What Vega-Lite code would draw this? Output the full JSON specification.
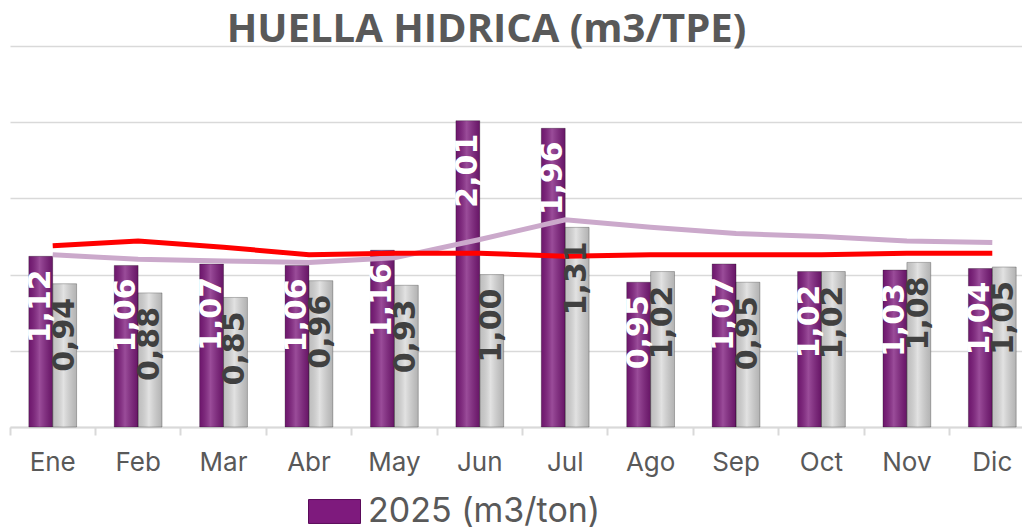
{
  "$schema": "https://vega.github.io/schema/vega-lite/v6.json",
  "autosize": {"type": "none"},
  "padding": {"left": 10, "top": 46, "right": 0, "bottom": 102},
  "width": 1025,
  "height": 381,
  "background": "white",
  "title": {
    "text": "HUELLA HIDRICA (m3/TPE)",
    "font": "Open Sans",
    "fontSize": 40,
    "fontWeight": "bold",
    "color": "#595959",
    "anchor": "middle",
    "dx": -36,
    "dy": 44,
    "offset": 0,
    "baseline": "bottom"
  },
  "datasets": {
    "bars": [
      {"month": "Ene", "series": "2025 (m3/ton)", "value": 1.12},
      {"month": "Feb", "series": "2025 (m3/ton)", "value": 1.06},
      {"month": "Mar", "series": "2025 (m3/ton)", "value": 1.07},
      {"month": "Abr", "series": "2025 (m3/ton)", "value": 1.06},
      {"month": "May", "series": "2025 (m3/ton)", "value": 1.16},
      {"month": "Jun", "series": "2025 (m3/ton)", "value": 2.01},
      {"month": "Jul", "series": "2025 (m3/ton)", "value": 1.96},
      {"month": "Ago", "series": "2025 (m3/ton)", "value": 0.95},
      {"month": "Sep", "series": "2025 (m3/ton)", "value": 1.07},
      {"month": "Oct", "series": "2025 (m3/ton)", "value": 1.02},
      {"month": "Nov", "series": "2025 (m3/ton)", "value": 1.03},
      {"month": "Dic", "series": "2025 (m3/ton)", "value": 1.04},
      {"month": "Ene", "series": "2024 (m3/ton)", "value": 0.94},
      {"month": "Feb", "series": "2024 (m3/ton)", "value": 0.88},
      {"month": "Mar", "series": "2024 (m3/ton)", "value": 0.85},
      {"month": "Abr", "series": "2024 (m3/ton)", "value": 0.96},
      {"month": "May", "series": "2024 (m3/ton)", "value": 0.93},
      {"month": "Jun", "series": "2024 (m3/ton)", "value": 1.00},
      {"month": "Jul", "series": "2024 (m3/ton)", "value": 1.31},
      {"month": "Ago", "series": "2024 (m3/ton)", "value": 1.02},
      {"month": "Sep", "series": "2024 (m3/ton)", "value": 0.95},
      {"month": "Oct", "series": "2024 (m3/ton)", "value": 1.02},
      {"month": "Nov", "series": "2024 (m3/ton)", "value": 1.08},
      {"month": "Dic", "series": "2024 (m3/ton)", "value": 1.05}
    ],
    "lines": [
      {"month": "Ene", "red": 1.19, "lilac": 1.13},
      {"month": "Feb", "red": 1.22, "lilac": 1.10},
      {"month": "Mar", "red": 1.18, "lilac": 1.09},
      {"month": "Abr", "red": 1.13, "lilac": 1.08},
      {"month": "May", "red": 1.14, "lilac": 1.11},
      {"month": "Jun", "red": 1.14, "lilac": 1.23},
      {"month": "Jul", "red": 1.12, "lilac": 1.36},
      {"month": "Ago", "red": 1.13, "lilac": 1.31},
      {"month": "Sep", "red": 1.13, "lilac": 1.27},
      {"month": "Oct", "red": 1.13, "lilac": 1.25},
      {"month": "Nov", "red": 1.14, "lilac": 1.22},
      {"month": "Dic", "red": 1.14, "lilac": 1.21}
    ]
  },
  "encoding": {
    "x": {
      "field": "month",
      "type": "nominal",
      "sort": ["Ene", "Feb", "Mar", "Abr", "May", "Jun", "Jul", "Ago", "Sep", "Oct", "Nov", "Dic"],
      "scale": {"paddingInner": 0, "paddingOuter": 0},
      "axis": {
        "title": null,
        "labelAngle": 0,
        "labelFont": "Inter",
        "labelFontSize": 26,
        "labelColor": "#595959",
        "labelPadding": 14,
        "bandPosition": 0,
        "domainColor": "#d9d9d9",
        "domainWidth": 2,
        "tickColor": "#d9d9d9",
        "tickWidth": 2,
        "tickSize": 8,
        "grid": false
      }
    }
  },
  "layer": [
    {
      "data": {"name": "bars"},
      "mark": {"type": "bar"},
      "encoding": {
        "xOffset": {"field": "series", "type": "nominal", "scale": {"domain": ["2025 (m3/ton)", "2024 (m3/ton)"], "paddingInner": 0, "paddingOuter": 0.787}},
        "y": {
          "field": "value",
          "type": "quantitative",
          "scale": {"domain": [0, 2.5], "nice": false},
          "axis": {"title": null, "labels": false, "ticks": false, "domain": false, "values": [0, 0.5, 1, 1.5, 2, 2.5], "gridColor": "#d9d9d9", "gridWidth": 1.5}
        },
        "color": {
          "field": "series",
          "type": "nominal",
          "scale": {"domain": ["2025 (m3/ton)", "2024 (m3/ton)"], "range": ["#7E1A7D", "#DADADA"]},
          "legend": {
            "values": ["2025 (m3/ton)"],
            "title": null,
            "orient": "none",
            "legendX": 298,
            "legendY": 439,
            "padding": 0,
            "symbolType": "M-1,-0.46L1,-0.46L1,0.46L-1,0.46Z",
            "symbolSize": 2704,
            "symbolStrokeColor": "#5a0a5a",
            "symbolStrokeWidth": 1,
            "labelFont": "Inter",
            "labelFontSize": 34,
            "labelColor": "#595959",
            "labelOffset": 7,
            "labelLimit": 400
          }
        }
      }
    },
    {
      "data": {"name": "bars"},
      "mark": {
        "type": "bar",
        "stroke": "rgba(0,0,0,0.25)",
        "strokeWidth": 1,
        "color": {
          "gradient": "linear", "x1": 0, "x2": 1, "y1": 0, "y2": 0,
          "stops": [
            {"offset": 0, "color": "rgba(0,0,0,0.12)"},
            {"offset": 0.45, "color": "rgba(255,255,255,0.22)"},
            {"offset": 1, "color": "rgba(0,0,0,0.18)"}
          ]
        }
      },
      "encoding": {
        "xOffset": {"field": "series", "type": "nominal"},
        "y": {"field": "value", "type": "quantitative"}
      }
    },
    {
      "data": {"name": "lines"},
      "mark": {"type": "line", "color": "#CBA9CB", "strokeWidth": 5},
      "encoding": {"y": {"field": "lilac", "type": "quantitative"}}
    },
    {
      "data": {"name": "lines"},
      "mark": {"type": "line", "color": "#FF0000", "strokeWidth": 5},
      "encoding": {"y": {"field": "red", "type": "quantitative"}}
    },
    {
      "data": {"name": "bars"},
      "transform": [{"filter": "datum.series === '2025 (m3/ton)'"}],
      "mark": {"type": "text", "angle": 270, "align": "right", "baseline": "middle", "dx": -13, "font": "DejaVu Sans", "fontWeight": "bold", "fontSize": 30, "color": "white"},
      "encoding": {
        "xOffset": {"field": "series", "type": "nominal"},
        "y": {"field": "value", "type": "quantitative"},
        "text": {"field": "value", "type": "quantitative", "format": ".2f"}
      }
    },
    {
      "data": {"name": "bars"},
      "transform": [{"filter": "datum.series !== '2025 (m3/ton)'"}],
      "mark": {"type": "text", "angle": 270, "align": "right", "baseline": "middle", "dx": -14, "font": "DejaVu Sans", "fontWeight": "bold", "fontSize": 30, "color": "#404040"},
      "encoding": {
        "xOffset": {"field": "series", "type": "nominal"},
        "y": {"field": "value", "type": "quantitative"},
        "text": {"field": "value", "type": "quantitative", "format": ".2f"}
      }
    }
  ],
  "config": {
    "view": {"stroke": null},
    "locale": {"number": {"decimal": ",", "thousands": ".", "grouping": [3], "currency": ["", " €"]}}
  }
}
